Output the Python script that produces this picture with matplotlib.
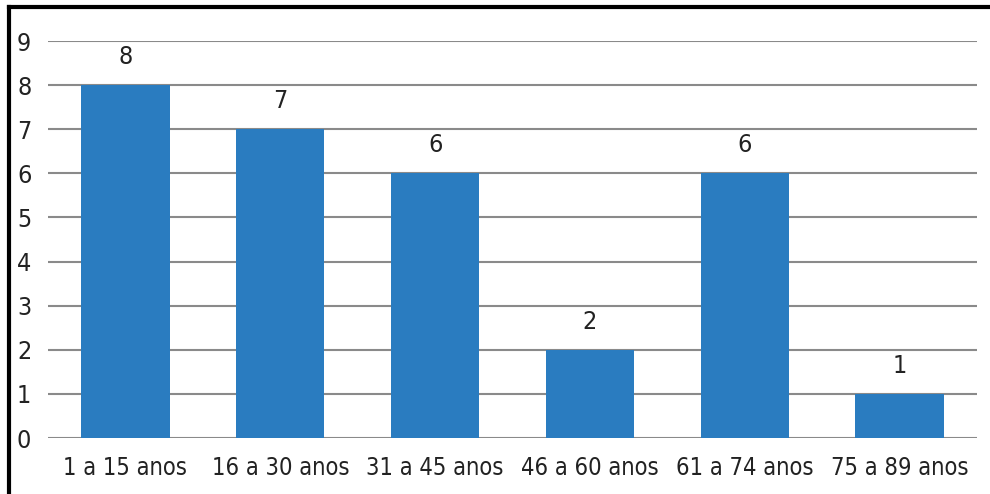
import matplotlib.pyplot as plt
from matplotlib.lines import Line2D
from matplotlib import font_manager

# prefer a condensed face when one is installed
cond = [f for f in font_manager.fontManager.ttflist
        if 'Narrow' in f.name or 'Condensed' in f.fname and f.style == 'normal' and f.weight == 400]
if cond:
    face = font_manager.FontProperties(fname=cond[0].fname)
else:
    face = font_manager.FontProperties(family='Liberation Sans')

categories = ['1 a 15 anos', '16 a 30 anos', '31 a 45 anos',
              '46 a 60 anos', '61 a 74 anos', '75 a 89 anos']
counts = [8, 7, 6, 2, 6, 1]
yticks = list(range(0, 10))

fig = plt.figure(figsize=(9.9, 4.94), dpi=100)
ax = fig.add_axes([48 / 990, 1 - 438 / 494, (977 - 48) / 990, (438 - 41) / 494])

x = list(range(len(categories)))
ax.bar(x, counts, width=0.57, color='#2a7cc0', zorder=3)
for xi, v in zip(x, counts):
    ax.text(xi, v + 0.36, str(v), ha='center', va='bottom', fontproperties=face,
            fontsize=18, color='#222222')

ax.set_xlim(-0.5, 5.5)
ax.set_ylim(0, 9)
ax.set_yticks(yticks)
ax.set_xticks(x)
ax.set_xticklabels(categories, fontproperties=face, fontsize=17, color='#222222')
ax.set_yticklabels([str(t) for t in yticks], fontproperties=face, fontsize=18, color='#222222')
ax.yaxis.grid(True, color='#8a8a8a', linewidth=1.5, zorder=0)
ax.tick_params(length=0)
ax.tick_params(axis='x', pad=13)
ax.tick_params(axis='y', pad=12)
for s in ax.spines.values():
    s.set_visible(False)

# outer frame: left and top edges
fig.add_artist(Line2D([9 / 990, 9 / 990], [0, 1 - 7 / 494], color='black', linewidth=3,
                      transform=fig.transFigure))
fig.add_artist(Line2D([9 / 990, 1], [1 - 7 / 494, 1 - 7 / 494], color='black', linewidth=3,
                      transform=fig.transFigure))

fig.savefig('out.png', dpi=100)
